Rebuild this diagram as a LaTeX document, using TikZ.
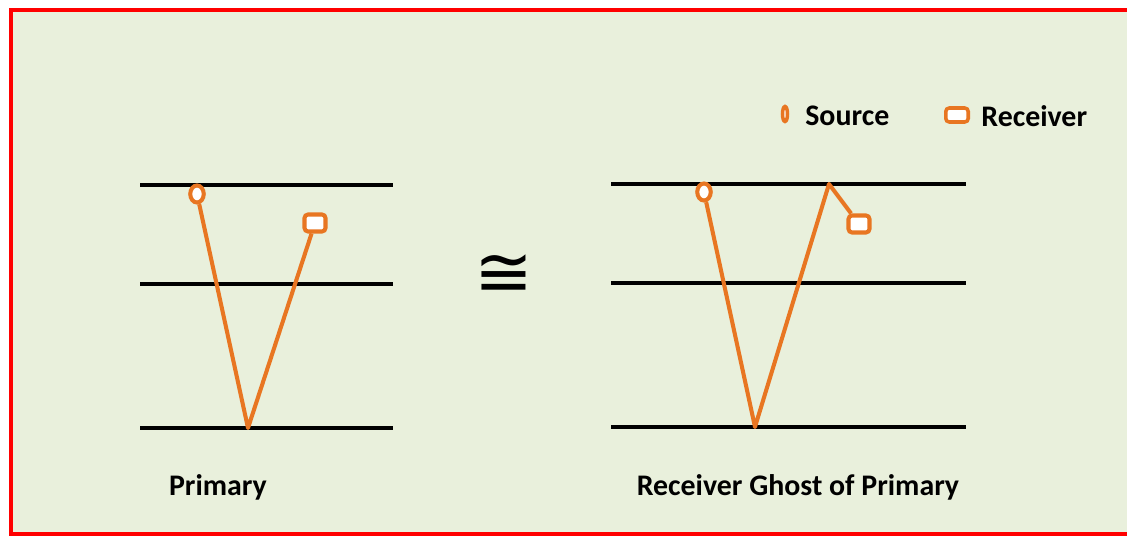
\documentclass[tikz,border=0pt]{standalone}
\usepackage{fontspec}
\setmainfont{Carlito}
\newfontfamily\symbfont{DejaVu Sans}
\usetikzlibrary{positioning,shapes.geometric}
\definecolor{bgreen}{RGB}{233,240,220}
\definecolor{sorange}{RGB}{232,118,34}
\tikzset{
  layer/.style={line width=2.8pt,black},
  ray/.style={line width=2.3pt,sorange,line join=round},
  src/.style={ellipse,draw=sorange,line width=2.3pt,fill=white,minimum width=0.27cm,minimum height=0.34cm,inner sep=0pt},
  rcv/.style={rectangle,rounded corners=2pt,draw=sorange,line width=2.3pt,fill=white,minimum width=0.42cm,minimum height=0.34cm,inner sep=0pt},
  lbl/.style={font=\fontsize{17}{20}\selectfont\bfseries,inner sep=0pt}
}
\begin{document}
\begin{tikzpicture}[x=0.02cm,y=-0.02cm]
\useasboundingbox (0,0) rectangle (1127,540);
\fill[bgreen] (11,10) rectangle (1127,534);
\draw[red,line width=2.6pt] (1127,10) -- (11,10) -- (11,534) -- (1127,534);

% left panel
\draw[layer] (140,185) -- (393,185);
\draw[layer] (140,284) -- (393,284);
\draw[layer] (140,428) -- (393,428);
\coordinate (B1) at (248,428);
\node[src] (S1) at (197,194) {};
\node[rcv] (R1) at (315,223) {};
\draw[ray] (S1) -- (B1) -- (R1);
\node[lbl] (P1) at (218,487) {Primary};

\node[inner sep=0pt,font=\symbfont\fontsize{40}{40}\selectfont] (eq) at (504,276) {≅};

% right panel
\draw[layer] (611,184) -- (966,184);
\draw[layer] (611,283) -- (966,283);
\draw[layer] (611,427) -- (966,427);
\coordinate (B2) at (755,427);
\coordinate (T2) at (829,184);
\node[src] (S2) at (704,192) {};
\node[rcv] (R2) at (859,224) {};
\draw[ray] (S2) -- (B2) -- (T2) -- (R2);
\node[lbl] (P2) at (798,487) {Receiver Ghost of Primary};

% legend
\node[src,minimum width=0.1cm,minimum height=0.3cm,line width=2pt] (LS) at (785,114) {};
\node[lbl,anchor=west] (LSt) at (805,116) {Source};
\node[rcv,minimum width=0.45cm,minimum height=0.28cm,line width=2pt] (LR) at (957,115) {};
\node[lbl,anchor=west] (LRt) at (981,116) {Receiver};
\end{tikzpicture}
\end{document}
